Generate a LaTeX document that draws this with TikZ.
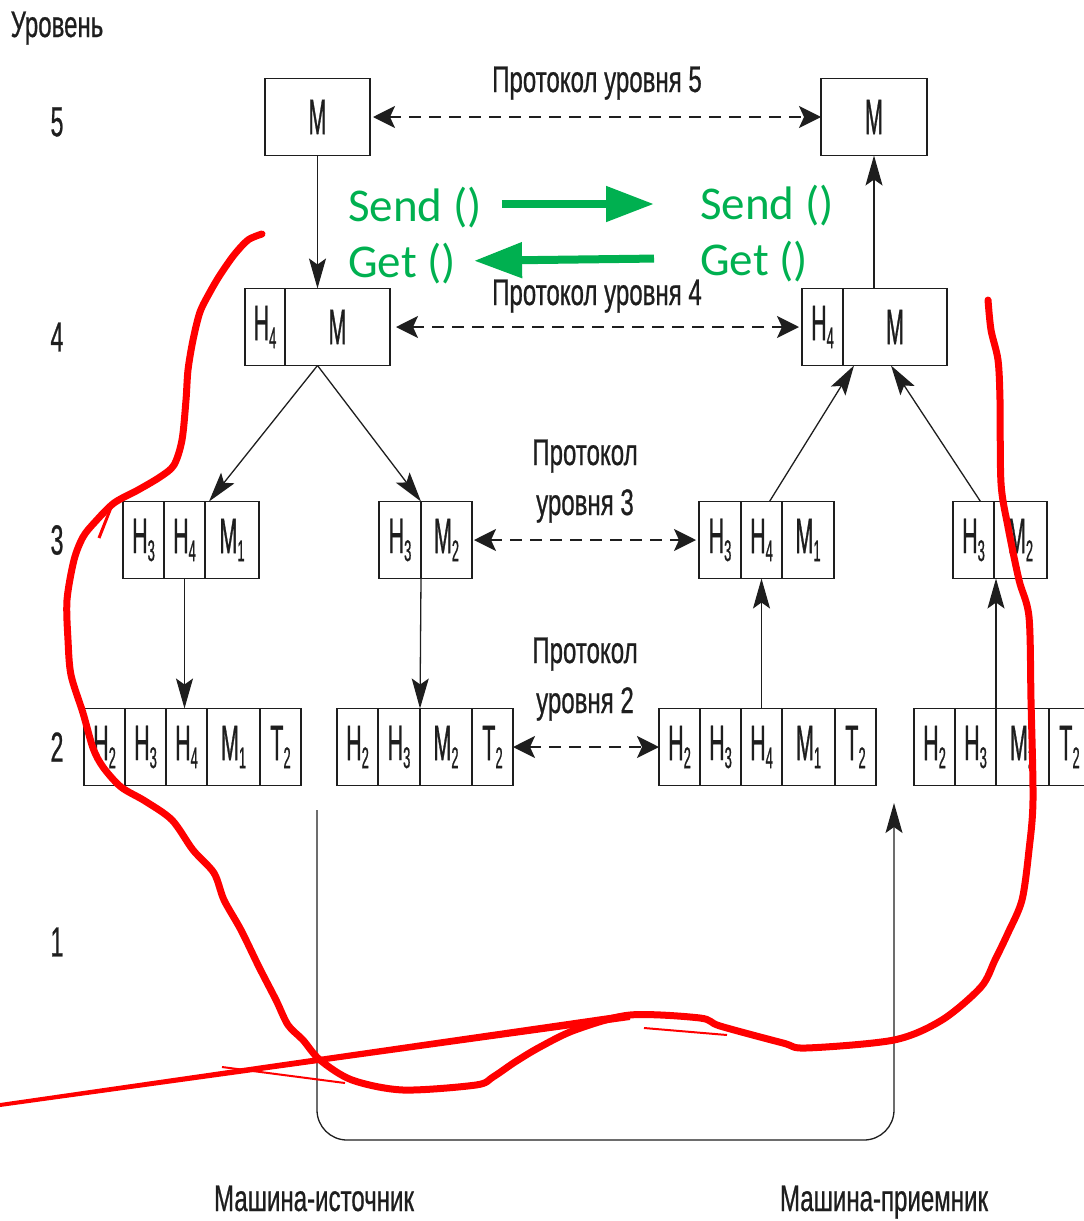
\documentclass[tikz,border=0pt]{standalone}
\usepackage{fontspec}
\setmainfont{Liberation Sans}[FakeStretch=0.65, FakeBold=0.6]
\newfontfamily\cellfont{Liberation Sans}[FakeStretch=0.43, FakeBold=0.6]
\newfontfamily\levelfont{Liberation Sans}[FakeStretch=0.55, FakeBold=0.6]
\newfontfamily\callfont{Carlito}
\usetikzlibrary{arrows.meta}

\definecolor{ink}{HTML}{1E1E1E}
\definecolor{callgreen}{HTML}{00B050}

\newcommand{\cellsub}[1]{\raisebox{-8pt}{\fontsize{30}{30}\selectfont #1}}

\tikzstyle{cell}=[draw=ink, line width=1.8pt, inner sep=0pt, outer sep=0pt, minimum height=77pt, anchor=west, text=ink, font={\cellfont\fontsize{50}{50}\selectfont}]
\tikzstyle{level}=[text=ink, inner sep=0pt, font={\levelfont\fontsize{42}{42}\selectfont}]
\tikzstyle{caption}=[text=ink, inner sep=0pt, align=center, font={\fontsize{37}{50}\selectfont}]
\tikzstyle{flow}=[draw=ink, line width=1.3pt, -{Stealth[length=30pt,width=17pt,inset=6pt]}]
\tikzstyle{peer}=[draw=ink, line width=2pt, dash pattern=on 12pt off 8pt, {Stealth[length=22pt,width=22pt,inset=5pt]}-{Stealth[length=22pt,width=22pt,inset=5pt]}]
\tikzstyle{wire}=[draw=ink, line width=1.3pt, rounded corners=30pt, -{Stealth[length=30pt,width=17pt,inset=6pt]}]
\tikzstyle{call}=[text=callgreen, inner sep=0pt, anchor=base west, font={\callfont\fontsize{47}{47}\selectfont}]
\tikzstyle{callarrow}=[draw=callgreen, line width=8pt, -{Triangle[length=48pt,width=34pt]}]
\tikzstyle{scribble}=[draw=red, line width=7pt, line cap=round, line join=round]

\begin{document}
\begin{tikzpicture}[x=1pt, y=-1pt]
    \useasboundingbox (0,0) rectangle (1084,1221);
    \clip (0,0) rectangle (1084,1221);

    % level numbers
    \node[caption, anchor=base] (levhead) at (57,37) {Уровень};
    \foreach \n/\y in {5/122, 4/337, 3/540, 2/747, 1/942}
        \node[level] (lev\n) at (57,\y) {\n};

    % message boxes, one row per level
    \foreach \name/\x/\w/\txt in {m5a/265/105/M, m5b/821/106/M}
        \node[cell, minimum width=\w] (\name) at (\x,117) {\txt};
    \foreach \name/\x/\w/\txt in {l4a-h/245/40/H\cellsub{4}, l4a-m/285/105/M,
                                  l4b-h/802/41/H\cellsub{4}, l4b-m/843/104/M}
        \node[cell, minimum width=\w] (\name) at (\x,327) {\txt};
    \foreach \name/\x/\w/\txt in {l3a-h3/123/41/H\cellsub{3}, l3a-h4/164/41/H\cellsub{4}, l3a-m/205/54/M\cellsub{1},
                                  l3b-h3/379/42/H\cellsub{3}, l3b-m/421/51/M\cellsub{2},
                                  l3c-h3/699/42/H\cellsub{3}, l3c-h4/741/41/H\cellsub{4}, l3c-m/782/52/M\cellsub{1},
                                  l3d-h3/953/41/H\cellsub{3}, l3d-m/994/53/M\cellsub{2}}
        \node[cell, minimum width=\w] (\name) at (\x,540) {\txt};
    \foreach \name/\x/\w/\txt in {l2a-h2/84/41/H\cellsub{2}, l2a-h3/125/41/H\cellsub{3}, l2a-h4/166/41/H\cellsub{4}, l2a-m/207/53/M\cellsub{1}, l2a-t/260/41/T\cellsub{2},
                                  l2b-h2/337/41/H\cellsub{2}, l2b-h3/378/42/H\cellsub{3}, l2b-m/420/52/M\cellsub{2}, l2b-t/472/41/T\cellsub{2},
                                  l2c-h2/659/41/H\cellsub{2}, l2c-h3/700/41/H\cellsub{3}, l2c-h4/741/41/H\cellsub{4}, l2c-m/782/53/M\cellsub{1}, l2c-t/835/41/T\cellsub{2},
                                  l2d-h2/914/41/H\cellsub{2}, l2d-h3/955/41/H\cellsub{3}, l2d-m/996/53/M\cellsub{2}, l2d-t/1049/41/T\cellsub{2}}
        \node[cell, minimum width=\w] (\name) at (\x,747) {\txt};

    % peer protocols
    \node[caption, anchor=base] (p5) at (597,92) {Протокол уровня 5};
    \node[caption, anchor=base] (p4) at (597,305) {Протокол уровня 4};
    \node[caption, anchor=base] (p3) at (585,515) {Протокол\\уровня 3};
    \node[caption, anchor=base] (p2) at (585,713) {Протокол\\уровня 2};
    \draw[peer, shorten <=3pt] (m5a.east) -- (m5b.west);
    \draw[peer, shorten <=6pt, shorten >=3pt] (l4a-m.east) -- (l4b-h.west);
    \draw[peer, shorten <=2pt, shorten >=3pt] (l3b-m.east) -- (l3c-h3.west);
    \draw[peer] (l2b-t.east) -- (l2c-h2.west);

    % sender goes down, receiver goes up
    \draw[flow] (m5a.south) -- (m5a.south |- l4a-m.north);
    \draw[flow] (m5a.south |- l4a-m.south) -- ([xshift=4pt]l3a-h4.north east);
    \draw[flow] (m5a.south |- l4a-m.south) -- (l3b-h3.north east);
    \draw[flow] (l3a-h4.south) -- (l3a-h4.south |- l2a-h4.north);
    \draw[flow] (l3b-h3.south east) -- (l2b-h3.north east);
    \draw[flow] (l2c-h4.north) -- (l3c-h4.south);
    \draw[flow] (l2d-h3.north east) -- (l2d-h3.north east |- l3d-h3.south);
    \draw[flow] ([xshift=8pt]l3c-h4.north) -- ([xshift=11pt]l4b-m.south west);
    \draw[flow] ([xshift=7pt]l3d-h3.north) -- ([xshift=-4pt]l4b-m.south);
    \draw[flow] (m5b.south |- l4b-m.north) -- (m5b.south);

    % physical medium
    \coordinate (txdown) at (317,810);
    \coordinate (rxup) at (894,803);
    \draw[wire] (txdown) |- (rxup |- 0,1140) -- (rxup);
    \node[caption, anchor=base] (src) at (314,1211) {Машина-источник};
    \node[caption, anchor=base] (dst) at (884,1211) {Машина-приемник};

    % calls between the two sides
    \node[call] (sendL) at (348,221) {Send ()};
    \node[call] (getL) at (348,277) {Get ()};
    \node[call] (sendR) at (700,219) {Send ()};
    \node[call] (getR) at (700,275) {Get ()};
    \draw[callarrow] ([yshift=17pt]sendL.base east) [shorten <=20pt, shorten >=46pt] -- ([yshift=15pt]sendR.base west);
    \draw[callarrow] ([yshift=17pt]getR.base west) [shorten <=46pt, shorten >=18pt] -- ([yshift=16pt]getL.base east);

    % red hand-drawn outline
    \draw[scribble] plot[smooth, tension=0.5] coordinates {
        (262,234) (248,240) (234,255) (220,275) (210,292) (200,312) (193,340) (188,370)
        (186,400) (182,440) (174,465) (160,477) (138,490) (114,503) (95,522) (83,537)
        (74,560) (67,600) (68,640) (71,675) (83,713) (93,748) (103,767) (121,787)
        (145,801) (172,820) (193,850) (214,873) (224,900) (241,930) (259,967) (276,1000)
        (288,1025) (303,1040) (320,1060) (352,1080) (403,1090) (476,1085) (493,1077)
        (515,1062) (540,1047) (575,1030) (630,1015) (700,1018) (720,1026) (783,1043)
        (806,1048) (894,1040) (942,1020) (981,987) (995,960) (1008,933) (1022,900)
        (1029,850) (1033,800) (1031,700) (1029,617) (1019,580) (1008,527) (1001,483)
        (1000,400) (998,360) (991,330) (988,300)};
    \fill[red] (0,1103) -- (630,1012) -- (630,1020) -- (0,1107) -- cycle;
    \draw[red, line width=2pt] (222,1067) -- (345,1083);
    \draw[red, line width=2pt] (644,1028) -- (727,1035);
    \draw[red, line width=3pt] (112,505) -- (99,538);
\end{tikzpicture}
\end{document}
